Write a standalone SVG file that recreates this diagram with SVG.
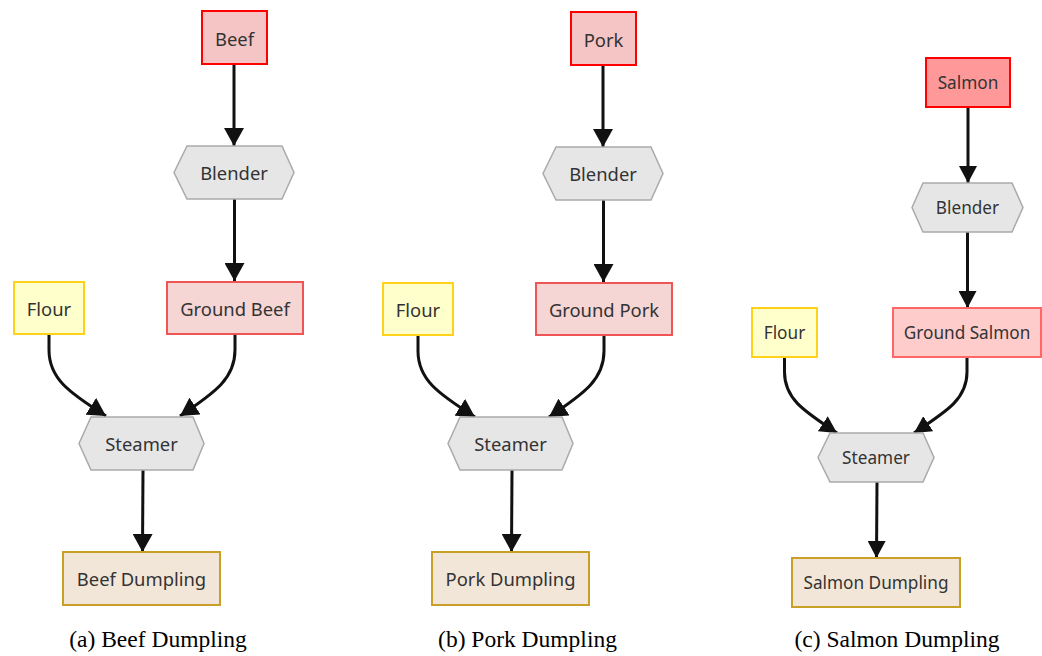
<svg xmlns="http://www.w3.org/2000/svg" width="1042" height="656" viewBox="0 0 1042 656">
<style>
.t{font-family:"Noto Sans","Open Sans","DejaVu Sans",sans-serif;fill:#333;text-anchor:middle;dominant-baseline:central}
.s{font-size:18.4px}
.sc{font-size:17.2px}
.cap{font-family:"Liberation Serif","Times New Roman",serif;font-size:23.5px;fill:#000;text-anchor:middle}
.meat{fill:#f5c5c5;stroke:#ff0000;stroke-width:2}
.salmon{fill:#ff9999;stroke:#ff0000;stroke-width:2}
.ground{fill:#f6d5d5;stroke:#f05555;stroke-width:2}
.gsal{fill:#ffcccc;stroke:#ff6666;stroke-width:2}
.flour{fill:#ffffcc;stroke:#ffd21a;stroke-width:2}
.tool{fill:#e6e6e6;stroke:#aaaaaa;stroke-width:1.5}
.dump{fill:#f2e6d9;stroke:#c8a028;stroke-width:2}
.e{fill:none;stroke:#111;stroke-width:3}
.ea{marker-end:url(#ah)}
.ec{marker-end:url(#ahc)}
</style>
<defs>
<marker id="ah" markerUnits="userSpaceOnUse" markerWidth="20" markerHeight="20" refX="18" refY="10" orient="auto"><path d="M0,0 L18,10 L0,20 z" fill="#111"/></marker>
<marker id="ahc" markerUnits="userSpaceOnUse" markerWidth="18" markerHeight="18" refX="17" refY="9" orient="auto"><path d="M0,0 L17,9 L0,18 z" fill="#111"/></marker>
</defs>

<g id="edges">
<path class="e ea" d="M234,64 L234,146"/>
<path class="e ea" d="M234.5,199 L234.5,281"/>
<path class="e ea" d="M49,334 L49,350 C49,378 68,392 106,416"/>
<path class="e ea" d="M235,334 L235,350 C235,378 216,392 180,416"/>
<path class="e ea" d="M143,470 L142.5,552"/>

<path class="e ea" d="M603,65 L603,147"/>
<path class="e ea" d="M603.5,200 L603.5,282"/>
<path class="e ea" d="M418,335 L418,351 C418,379 437,393 475,417"/>
<path class="e ea" d="M604,335 L604,351 C604,379 585,393 549,417"/>
<path class="e ea" d="M512,470 L511.5,552"/>

<path class="e ec" d="M968,107 L968,183"/>
<path class="e ec" d="M967.5,232 L967.5,308"/>
<path class="e ec" d="M784.5,357 L784.5,372 C784.5,398 802,410 837,433"/>
<path class="e ec" d="M967,357 L967,372 C967,398 949,410 914,433"/>
<path class="e ec" d="M877,482 L876.5,558"/>
</g>

<g id="a-beef"><rect class="meat" x="202" y="11" width="65" height="53"/><text class="t s" x="234.5" y="38">Beef</text></g>
<g id="a-blender"><polygon class="tool" points="174,172.5 187,146 282,146 294,172.5 282,199 187,199"/><text class="t s" x="234" y="172.5">Blender</text></g>
<g id="a-flour"><rect class="flour" x="14" y="282" width="70" height="52"/><text class="t s" x="49" y="308">Flour</text></g>
<g id="a-ground"><rect class="ground" x="167" y="282" width="136" height="52"/><text class="t s" x="235" y="308">Ground Beef</text></g>
<g id="a-steamer"><polygon class="tool" points="79,443.5 91,417 193,417 204,443.5 193,470 91,470"/><text class="t s" x="141.5" y="443.5">Steamer</text></g>
<g id="a-dumpling"><rect class="dump" x="63" y="552" width="157" height="53"/><text class="t s" x="141.5" y="578.5">Beef Dumpling</text></g>

<g id="b-pork"><rect class="meat" x="571" y="12" width="65" height="53"/><text class="t s" x="603.5" y="39">Pork</text></g>
<g id="b-blender"><polygon class="tool" points="543,173.5 556,147 651,147 663,173.5 651,200 556,200"/><text class="t s" x="603" y="173.5">Blender</text></g>
<g id="b-flour"><rect class="flour" x="383" y="283" width="70" height="52"/><text class="t s" x="418" y="309">Flour</text></g>
<g id="b-ground"><rect class="ground" x="536" y="283" width="136" height="52"/><text class="t s" x="604" y="309">Ground Pork</text></g>
<g id="b-steamer"><polygon class="tool" points="448,443.5 460,417 562,417 573,443.5 562,470 460,470"/><text class="t s" x="510.5" y="443.5">Steamer</text></g>
<g id="b-dumpling"><rect class="dump" x="432" y="552" width="157" height="53"/><text class="t s" x="510.5" y="578.5">Pork Dumpling</text></g>

<g id="c-salmon"><rect class="salmon" x="926" y="58" width="84" height="49"/><text class="t sc" x="968" y="82.5">Salmon</text></g>
<g id="c-blender"><polygon class="tool" points="912,207.5 923,183 1012,183 1023,207.5 1012,232 923,232"/><text class="t sc" x="967.5" y="207.5">Blender</text></g>
<g id="c-flour"><rect class="flour" x="752" y="308" width="65" height="49"/><text class="t sc" x="784.5" y="332.5">Flour</text></g>
<g id="c-ground"><rect class="gsal" x="893" y="308" width="148" height="49"/><text class="t sc" x="967" y="332.5">Ground Salmon</text></g>
<g id="c-steamer"><polygon class="tool" points="818,457.5 830,433 923,433 934,457.5 923,482 830,482"/><text class="t sc" x="876" y="457.5">Steamer</text></g>
<g id="c-dumpling"><rect class="dump" x="792" y="558" width="168" height="49"/><text class="t sc" x="876" y="582.5">Salmon Dumpling</text></g>

<g id="captions">
<text class="cap" x="158" y="647">(a) Beef Dumpling</text>
<text class="cap" x="527.5" y="647">(b) Pork Dumpling</text>
<text class="cap" x="897" y="647">(c) Salmon Dumpling</text>
</g>
</svg>
